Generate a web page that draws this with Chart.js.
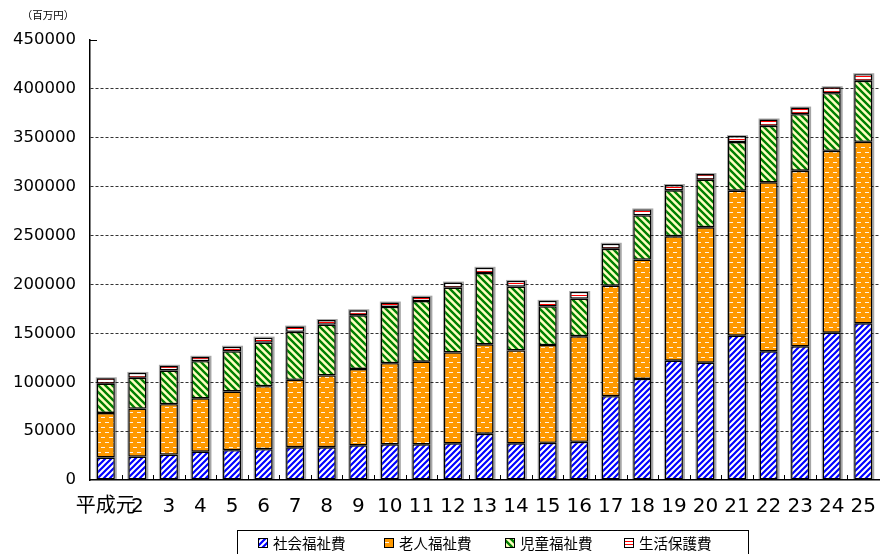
<!DOCTYPE html>
<html>
<head>
<meta charset="utf-8">
<script src="https://cdn.jsdelivr.net/npm/chart.js@4"></script>
<style>
  html, body { margin: 0; padding: 0; background: #fff; }
  #wrap { width: 891px; height: 554px; position: relative; }
</style>
</head>
<body>
<div id="wrap"><canvas id="myChart" width="891" height="554"></canvas></div>
<script>
// 年度ラベル
const years = ['平成元', '2', '3', '4', '5', '6', '7', '8', '9', '10', '11', '12', '13',
  '14', '15', '16', '17', '18', '19', '20', '21', '22', '23', '24', '25'];

// 系列（百万円）
const shakaiFukushi = [23000, 24000, 26000, 29000, 30500, 31500, 33500, 33500, 35500, 36500, 36500, 37500, 47300,
  37500, 38000, 39000, 85700, 103400, 122000, 120000, 147600, 131600, 136700, 150700, 160200];
const roujinFukushi = [45500, 49000, 51500, 54500, 60000, 64500, 69000, 73500, 78000, 83000, 84500, 93000, 91500,
  95000, 100000, 108000, 113000, 122000, 127300, 138500, 148300, 172800, 179600, 186000, 185700];
const jidouFukushi = [30000, 31500, 34500, 38000, 41000, 44500, 49000, 52000, 55000, 57500, 62000, 66300, 72800,
  65300, 39500, 38500, 37800, 45200, 47000, 48600, 49700, 57800, 57800, 58900, 62300];
const seikatsuHogo = [5500, 5000, 4800, 4500, 4800, 5100, 5400, 4600, 5100, 4500, 4500, 5100, 5400,
  5800, 5700, 6800, 5100, 6100, 5400, 5800, 6100, 6500, 6800, 6100, 6800];

const seriesNames = ['社会福祉費', '老人福祉費', '児童福祉費', '生活保護費'];
const yTicks = [0, 50000, 100000, 150000, 200000, 250000, 300000, 350000, 400000, 450000];

document.addEventListener("DOMContentLoaded", () => {
  const canvas = document.getElementById('myChart');
  const ctx = canvas.getContext('2d');

  // 塗りパターン作成
  function makePattern(w, h, draw) {
    const c = document.createElement('canvas');
    c.width = w; c.height = h;
    draw(c.getContext('2d'), w, h);
    return ctx.createPattern(c, 'repeat');
  }

  const blueHatch = makePattern(6, 6, (g, w, h) => {
    g.fillStyle = '#ffffff'; g.fillRect(0, 0, w, h);
    g.strokeStyle = '#0000ff'; g.lineWidth = 2.2;
    g.beginPath();
    g.moveTo(-1, h + 1); g.lineTo(w + 1, -1);
    g.moveTo(-1, 1); g.lineTo(1, -1);
    g.moveTo(w - 1, h + 1); g.lineTo(w + 1, h - 1);
    g.stroke();
  });

  const orangeDash = makePattern(8, 10, (g, w, h) => {
    g.fillStyle = '#ff9900'; g.fillRect(0, 0, w, h);
    g.fillStyle = '#fff4e6';
    g.fillRect(1, 2, 4, 1);
    g.fillRect(5, 7, 4, 1);
    g.fillRect(-3, 7, 4, 1);
  });

  const greenHatch = makePattern(7, 7, (g, w, h) => {
    g.fillStyle = '#ffffc0'; g.fillRect(0, 0, w, h);
    g.strokeStyle = '#008000'; g.lineWidth = 2.4;
    g.beginPath();
    g.moveTo(-1, -1); g.lineTo(w + 1, h + 1);
    g.moveTo(w - 1, -1); g.lineTo(w + 1, 1);
    g.moveTo(-1, h - 1); g.lineTo(1, h + 1);
    g.stroke();
  });

  const redLines = makePattern(4, 3, (g, w, h) => {
    g.fillStyle = '#ffffff'; g.fillRect(0, 0, w, h);
    g.fillStyle = '#ff0000'; g.fillRect(0, 1, w, 1);
  });

  const fills = [blueHatch, orangeDash, greenHatch, redLines];
  const values = [shakaiFukushi, roujinFukushi, jidouFukushi, seikatsuHogo];

  const data = {
    labels: years,
    datasets: seriesNames.map((name, i) => ({
      label: name,
      data: values[i],
      backgroundColor: fills[i],
      borderColor: '#000000',
      borderWidth: 1.4,
      borderSkipped: false,
      inflateAmount: 0,
      categoryPercentage: 1.0,
      barPercentage: 0.57
    }))
  };

  const PLOT_LEFT = 90, PLOT_BOTTOM = 480;

  // 単位・凡例・目盛り線の描画
  const extras = {
    id: 'extras',
    beforeDatasetsDraw(chart) {
      // 棒の影（灰色の縁）
      const c = chart.ctx;
      c.save();
      c.fillStyle = 'rgba(0,0,0,0.35)';
      const metas = chart.getSortedVisibleDatasetMetas();
      years.forEach((_, idx) => {
        const bottomBar = metas[0].data[idx];
        const topBar = metas[metas.length - 1].data[idx];
        const half = bottomBar.width / 2;
        c.fillRect(bottomBar.x - half - 1, topBar.y - 1, bottomBar.width + 3, bottomBar.base - topBar.y + 1);
      });
      c.restore();
    },
    afterDraw(chart) {
      const c = chart.ctx;
      const area = chart.chartArea;
      c.save();

      // x軸の内側目盛り
      c.strokeStyle = '#000';
      c.lineWidth = 1;
      const step = (area.right - area.left) / years.length;
      for (let i = 1; i < years.length; i++) {
        const x = Math.round(area.left + i * step) + 0.5;
        c.beginPath(); c.moveTo(x, area.bottom); c.lineTo(x, area.bottom - 5); c.stroke();
      }
      // y軸上端の目盛り
      c.beginPath(); c.moveTo(area.left, area.top + 0.5); c.lineTo(area.left + 7, area.top + 0.5); c.stroke();

      // 単位
      c.fillStyle = '#000';
      c.font = '10.5px "Noto Sans CJK JP"';
      c.textAlign = 'center';
      c.textBaseline = 'middle';
      c.fillText('（百万円）', 48, 15);

      // 凡例枠
      c.strokeStyle = '#000';
      c.lineWidth = 1;
      c.strokeRect(237.5, 530.5, 511, 30);

      const boxX = [258, 384, 505, 624];
      c.font = '14.5px "Noto Sans CJK JP"';
      c.textAlign = 'left';
      seriesNames.forEach((name, i) => {
        c.fillStyle = fills[i];
        c.fillRect(boxX[i], 538, 10, 10);
        c.strokeStyle = '#000';
        c.strokeRect(boxX[i] + 0.5, 538.5, 9, 9);
        c.fillStyle = '#000';
        c.fillText(name, boxX[i] + 15, 543.5);
      });
      c.restore();
    }
  };

  const options = {
    responsive: false,
    animation: false,
    layout: { padding: { top: 40, right: 1, left: 0, bottom: 0 } },
    scales: {
      x: {
        stacked: true,
        afterFit(scale) { scale.height = 554 - PLOT_BOTTOM; },
        grid: { display: false, drawTicks: false },
        border: { display: true, color: '#000', width: 1.5 },
        ticks: {
          padding: 15,
          color: '#000',
          maxRotation: 0,
          autoSkip: false,
          font: { family: 'DejaVu Sans, "Noto Sans CJK JP"', size: 20 }
        }
      },
      y: {
        stacked: true,
        min: 0,
        max: 450000,
        afterFit(scale) { scale.width = PLOT_LEFT; },
        afterBuildTicks(scale) { scale.ticks = yTicks.map(v => ({ value: v })); },
        grid: {
          drawTicks: false,
          color: c2 => (c2.tick && c2.tick.value > 0 && c2.tick.value < 450000) ? '#333' : 'rgba(0,0,0,0)',
          lineWidth: 1
        },
        // v4 では border.dash がグリッド線の破線
        border: { display: true, color: '#000', width: 1.5, dash: [3, 2] },
        ticks: {
          padding: 14,
          color: '#000',
          font: { family: 'DejaVu Sans', size: 16.5 },
          callback: v => String(v)
        }
      }
    },
    plugins: {
      legend: { display: false },
      tooltip: { enabled: false }
    }
  };

  new Chart(ctx, {
    type: 'bar',
    data: data,
    options: options,
    plugins: [extras]
  });
});
</script>
</body>
</html>
